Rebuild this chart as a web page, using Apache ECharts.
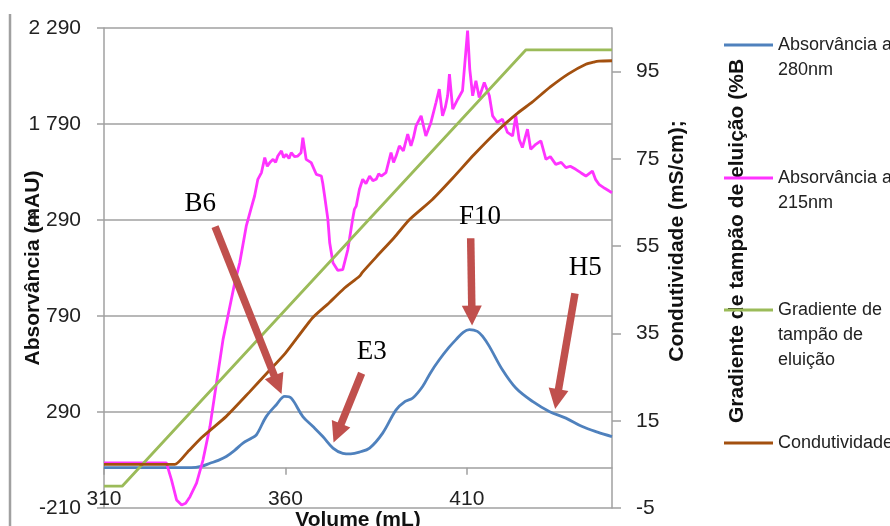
<!DOCTYPE html>
<html><head><meta charset="utf-8">
<script src="https://cdn.jsdelivr.net/npm/echarts@6/dist/echarts.min.js"></script>
<style>html,body{margin:0;padding:0;background:#fff}#c{width:890px;height:526px}</style>
</head><body><div id="c"></div>
<script>
// ---- data ----
const vol280 = [310, 334, 337, 339.2, 341.5, 343.7, 346, 348.3, 350.5, 352, 354.7, 357.5, 359.8, 361.6, 364.8, 367.6, 370.3, 373.1, 375.8, 378, 380.4, 383.2, 386.8, 390.5, 393, 395.1, 397.8, 400, 402.4, 405, 407, 409, 410.7, 412.9, 414.5, 416.2, 419.8, 423.5, 428.1, 432.7, 437.3, 441.8, 446, 450];
const abs280 = [0, 0, 8, 23, 38, 58, 90, 128, 152, 171, 266, 328, 371, 362, 266, 214, 162, 102, 75, 72, 81, 102, 180, 301, 345, 363, 423, 495, 562, 625, 667, 705, 719, 710, 680, 632, 510, 415, 345, 293, 258, 214, 185, 162];

const vol215 = [310, 327.2, 328.6, 330, 331.4, 332.5, 333.7, 335.5, 337.3, 339.2, 341, 342.8, 344.7, 346, 347.4, 349.2, 350.6, 351.5, 352.4, 353.4, 354.3, 355.0, 355.7, 356.6, 357.3, 357.9, 358.9, 359.5, 360.2, 361.0, 361.6, 362.5, 363.4, 364.3, 364.8, 365.7, 367.1, 368.5, 369.9, 370.3, 370.8, 371.7, 372.2, 373.1, 374.4, 375.8, 377.2, 378.5, 379.0, 379.5, 380.4, 381.3, 382.2, 383.2, 384.1, 385, 385.7, 386.4, 387.7, 389.1, 389.8, 390.5, 391.4, 392.5, 393.7, 394.6, 395.3, 396, 397.4, 398.7, 400.1, 401.5, 402.4, 403.3, 404.1, 404.7, 405.2, 406.1, 407.5, 408.8, 409.7, 410.2, 410.8, 411.6, 412.5, 413.4, 414.8, 416.2, 417.1, 418.4, 419.8, 421.2, 422.6, 423.5, 424.4, 425.3, 426.7, 427.6, 429, 430.4, 431.8, 433, 434.5, 436, 437.3, 438.5, 440, 441.5, 442.8, 444.6, 445.5, 446.4, 448, 450];
const abs215 = [25, 25, -64, -168, -194, -185, -151, -81, 41, 214, 441, 667, 841, 960, 1067, 1258, 1354, 1415, 1502, 1537, 1615, 1570, 1589, 1606, 1590, 1623, 1650, 1615, 1632, 1610, 1641, 1620, 1623, 1640, 1719, 1606, 1589, 1528, 1519, 1480, 1415, 1293, 1171, 1067, 1028, 1032, 1136, 1293, 1345, 1362, 1450, 1502, 1480, 1519, 1495, 1502, 1530, 1519, 1537, 1641, 1590, 1623, 1676, 1650, 1737, 1676, 1720, 1780, 1832, 1728, 1798, 1902, 1972, 1832, 1880, 1937, 2050, 1867, 1919, 1963, 2163, 2276, 2076, 1937, 2015, 1928, 2006, 1937, 1832, 1798, 1815, 1746, 1728, 1832, 1711, 1667, 1763, 1658, 1684, 1702, 1606, 1620, 1580, 1590, 1563, 1570, 1554, 1535, 1519, 1545, 1500, 1476, 1455, 1432];

const volGrad = [310, 315, 426.3, 450];
const gradB = [0, 0, 100, 100];

const volCond = [310, 329.5, 333, 337, 343.7, 350, 355, 360, 367.5, 372, 376, 380.4, 381.2, 385, 390, 394.2, 400.5, 406, 412, 418.9, 424, 428, 433, 438, 442.8, 445, 446.4, 450];
const cond = [5, 5, 7.8, 11.2, 16, 21.5, 26, 30.5, 38.6, 42, 45.2, 48.1, 49.0, 52.5, 57, 61.1, 65.7, 70.5, 76, 81.8, 85.5, 88, 91.5, 94.5, 96.7, 97.2, 97.4, 97.5];

const seriesNames = ['Absorvância a 280nm', 'Absorvância a 215nm', 'Gradiente de tampão de eluição', 'Condutividade'];
const legendLines = [['Absorvância a', '280nm'], ['Absorvância a', '215nm'], ['Gradiente de', 'tampão de', 'eluição'], ['Condutividade']];

const xTicks = {min: 310, max: 450, step: 50};
const leftTicks = {min: -210, max: 2290, step: 500};
const rightTicks = {min: -5, max: 105, step: 20};

// annotations (left-axis units)
const arrowFrom = [[340.6, 1255], [381.0, 492], [411.06, 1195], [439.8, 908]];
const arrowTo = [[357.9, 432], [374.3, 180], [411.4, 792], [434.8, 357]];
const tagNames = ['B6', 'E3', 'F10', 'H5'];
const tagPos = [[336.5, 1373], [383.8, 602], [413.6, 1306], [442.6, 1040]];

// ---- chart ----
const pairs = (xs, ys) => xs.map((x, i) => [x, ys[i]]);
const GRAY = '#a0a0a0';
const FONT = 'Liberation Sans';
const colors = ['#4F81BD', '#FF33FF', '#9BBB59', '#A3500F'];
const legendIconY = [45, 178, 310, 443];
const LH = 25;
// first text line aligned with icon: prepend (n-1) blank lines so block is centred on line 1
const legendText = legendLines.map(ls => Array(ls.length - 1).fill(' ').concat(ls).join('\n'));
const legendTop = legendLines.map((ls, i) => legendIconY[i] - (2 * ls.length - 1) * LH / 2);

const chart = echarts.init(document.getElementById('c'), null, {renderer: 'canvas'});
chart.setOption({
  animation: false,
  color: colors,
  grid: {left: 104, right: 278, top: 28, bottom: 18, containLabel: false, outerBoundsMode: 'none'},
  graphic: [{type: 'line', shape: {x1: 10, y1: 14, x2: 10, y2: 526}, style: {stroke: GRAY, lineWidth: 2.5}}],
  legend: seriesNames.map((n, i) => ({
    data: [n], orient: 'vertical', left: 724, top: legendTop[i], padding: 0,
    itemWidth: 49, itemHeight: 3, itemGap: 0, icon: 'rect', selectedMode: false,
    formatter: () => legendText[i],
    textStyle: {fontFamily: FONT, fontSize: 18, lineHeight: LH, color: '#222'}
  })),
  xAxis: {
    type: 'value', min: xTicks.min, max: xTicks.max, interval: xTicks.step,
    axisLine: {show: true, onZero: true, onZeroAxisIndex: 0, lineStyle: {color: GRAY, width: 1.5}},
    axisTick: {show: true, length: 7, lineStyle: {color: GRAY, width: 1.5}},
    axisLabel: {margin: -19, fontSize: 21, fontFamily: FONT, color: '#222', showMaxLabel: false},
    splitLine: {show: false},
    name: 'Volume (mL)', nameLocation: 'middle', nameGap: 2, nameMoveOverlap: false,
    nameTextStyle: {fontFamily: FONT, fontSize: 21, fontWeight: 'bold', color: '#111'}
  },
  yAxis: [{
    type: 'value', position: 'left', min: leftTicks.min, max: leftTicks.max, interval: leftTicks.step,
    axisLine: {show: true, lineStyle: {color: GRAY, width: 1.5}},
    axisTick: {show: true, length: 7, lineStyle: {color: GRAY, width: 1.5}},
    axisLabel: {margin: 23, fontSize: 21, fontFamily: FONT, color: '#222',
      formatter: v => { const s = String(Math.round(v)); return Math.abs(v) >= 1000 ? s.slice(0, -3) + ' ' + s.slice(-3) : s; }},
    splitLine: {show: true, lineStyle: {color: GRAY, width: 1.5}},
    name: 'Absorvância (mAU)', nameLocation: 'middle', nameGap: 60, nameRotate: 90, nameMoveOverlap: false,
    nameTextStyle: {fontFamily: FONT, fontSize: 21, fontWeight: 'bold', color: '#111'}
  }, {
    type: 'value', position: 'right', min: rightTicks.min, max: rightTicks.max, interval: rightTicks.step,
    axisLine: {show: true, lineStyle: {color: GRAY, width: 1.5}},
    axisTick: {show: true, length: 9, lineStyle: {color: GRAY, width: 1.5}},
    axisLabel: {margin: 24, fontSize: 21, fontFamily: FONT, color: '#222', showMaxLabel: false},
    splitLine: {show: false},
    name: 'Condutividade (mS/cm);\nGradiente de tampão de eluição (%B', nameLocation: 'middle', nameGap: 35, nameRotate: 90, nameMoveOverlap: false,
    nameTextStyle: {fontFamily: FONT, fontSize: 21, fontWeight: 'bold', color: '#111', lineHeight: 60, padding: [0, 0, 0, 54]}
  }],
  series: [{
    name: seriesNames[0], type: 'line', yAxisIndex: 0, data: pairs(vol280, abs280),
    showSymbol: false, smooth: 0.35, lineStyle: {width: 2.8}, z: 2,
    markLine: {
      silent: true, symbol: ['none', 'triangle'], symbolSize: 20, z: 10, animation: false,
      lineStyle: {color: '#C0504D', width: 7.5, type: 'solid', opacity: 1},
      itemStyle: {color: '#C0504D'},
      label: {show: false},
      data: arrowFrom.map((p, i) => [{coord: p}, {coord: arrowTo[i]}])
    },
    markPoint: {
      silent: true, symbol: 'rect', symbolSize: 1, itemStyle: {color: 'rgba(0,0,0,0)'}, z: 11,
      label: {show: true, position: 'inside', formatter: '{b}', fontFamily: 'Liberation Serif', fontSize: 27, color: '#000'},
      data: tagPos.map((p, i) => ({name: tagNames[i], coord: p}))
    }
  }, {
    name: seriesNames[1], type: 'line', yAxisIndex: 0, data: pairs(vol215, abs215),
    showSymbol: false, lineStyle: {width: 2.8}, z: 3
  }, {
    name: seriesNames[2], type: 'line', yAxisIndex: 1, data: pairs(volGrad, gradB),
    showSymbol: false, lineStyle: {width: 2.8}, z: 4
  }, {
    name: seriesNames[3], type: 'line', yAxisIndex: 1, data: pairs(volCond, cond),
    showSymbol: false, smooth: 0.2, lineStyle: {width: 2.8}, z: 5
  }]
});
</script></body></html>
